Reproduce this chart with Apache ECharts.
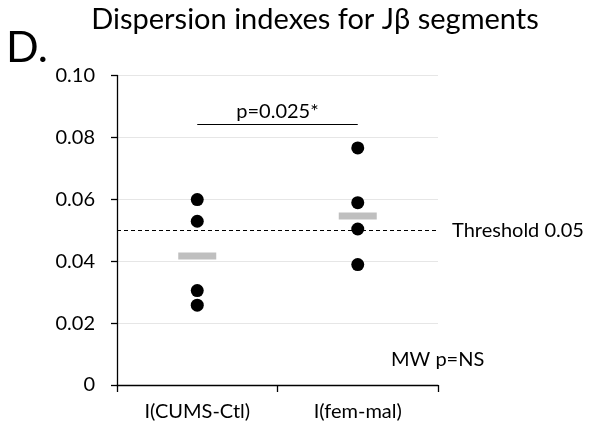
<!DOCTYPE html>
<html>
<head>
<meta charset="utf-8">
<script src="https://cdn.jsdelivr.net/npm/echarts@6/dist/echarts.min.js"></script>
<style>
html,body{margin:0;padding:0;background:#fff;}
#chart{width:606px;height:433px;}
</style>
</head>
<body>
<div id="chart"></div>
<script>
const categories = ['I(CUMS-Ctl)', 'I(fem-mal)'];
const pointsCUMS = [0.0599, 0.0529, 0.0305, 0.0258];
const pointsFemMal = [0.0766, 0.0589, 0.0504, 0.0389];
const meanValues = [0.0417, 0.0546];
const thresholdValue = 0.0505;
const thresholdLabel = 'Threshold 0.05';
const bracketValue = 0.0844;
const bracketLabel = 'p=0.025*';
const mwLabel = 'MW p=NS';
const titleText = 'Dispersion indexes for J\u03B2 segments';
const panelLabel = 'D.';

const FONT = 'Lato';
const dotData = [];
pointsCUMS.forEach(v => dotData.push([0, v]));
pointsFemMal.forEach(v => dotData.push([1, v]));
const meanData = meanValues.map((v, i) => [i, v]);

const chart = echarts.init(document.getElementById('chart'));
chart.setOption({
  animation: false,
  backgroundColor: '#fff',
  textStyle: {fontFamily: FONT},
  title: {
    text: titleText,
    left: 310, top: 0, textAlign: 'center',
    textStyle: {fontFamily: FONT, fontSize: 29, fontWeight: 'normal', color: '#000'}
  },
  graphic: [
    {type: 'text', left: 6, top: 27, style: {text: panelLabel, font: '43px Lato', fill: '#000'}},
    {type: 'text', left: 391, top: 350, style: {text: mwLabel, font: '20px Lato', fill: '#000'}}
  ],
  grid: {left: 117, right: 168, top: 75.5, bottom: 48, containLabel: false},
  xAxis: {
    type: 'category',
    data: categories,
    boundaryGap: true,
    axisLine: {lineStyle: {color: '#000', width: 1.3}},
    axisTick: {show: true, length: 7, lineStyle: {color: '#000', width: 1.3}},
    axisLabel: {color: '#000', fontSize: 20, fontFamily: FONT, margin: 17},
    splitLine: {show: false}
  },
  yAxis: {
    type: 'value',
    min: 0, max: 0.1, interval: 0.02,
    axisLine: {show: true, lineStyle: {color: '#000', width: 1.3}},
    axisTick: {show: true, length: 6, lineStyle: {color: '#000', width: 1.3}},
    axisLabel: {
      color: '#000', fontSize: 20, fontFamily: FONT, margin: 22,
      formatter: v => v === 0 ? '0' : v.toFixed(2)
    },
    splitLine: {show: true, lineStyle: {color: '#e6e6e6', width: 1}}
  },
  series: [
    {
      type: 'scatter',
      data: meanData,
      symbol: 'rect',
      symbolSize: [38, 7],
      itemStyle: {color: '#bfbfbf', opacity: 1},
      z: 2,
      markLine: {
        silent: true,
        symbol: ['none', 'none'],
        lineStyle: {color: '#000', type: [4, 3], width: 1},
        label: {show: true, position: 'end', formatter: thresholdLabel, color: '#000', fontSize: 20, fontFamily: FONT, distance: 14},
        data: [{yAxis: thresholdValue}]
      }
    },
    {
      type: 'scatter',
      data: dotData,
      symbol: 'circle',
      symbolSize: 13,
      itemStyle: {color: '#000', opacity: 1},
      z: 3,
      markLine: {
        silent: true,
        symbol: ['none', 'none'],
        lineStyle: {color: '#000', type: 'solid', width: 1.2},
        label: {show: true, position: 'middle', formatter: bracketLabel, color: '#000', fontSize: 20, fontFamily: FONT, distance: 2},
        data: [[{coord: [0, bracketValue]}, {coord: [1, bracketValue]}]]
      }
    }
  ]
});
</script>
</body>
</html>
